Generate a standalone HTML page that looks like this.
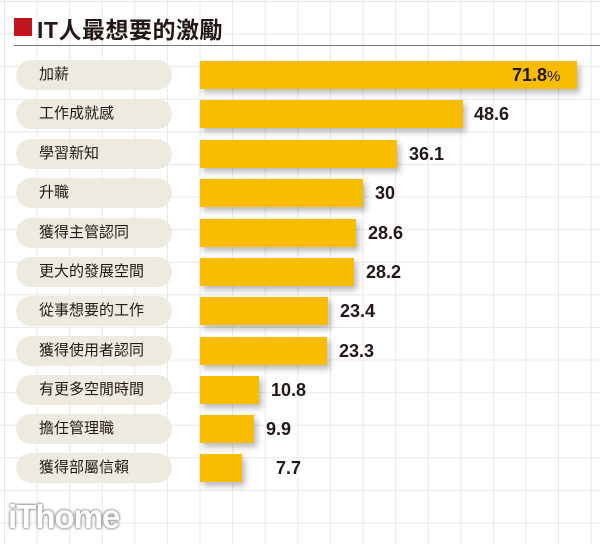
<!DOCTYPE html>
<html><head><meta charset="utf-8"><style>
body{margin:0;width:600px;height:544px;overflow:hidden;background:#fff;font-family:"Liberation Sans","Noto Sans CJK TC",sans-serif;}
#c{position:relative;width:600px;height:544px;
background-image:linear-gradient(to right,#e8e8e8 1px,transparent 1px),linear-gradient(to bottom,#e8e8e8 1px,transparent 1px);
background-size:32.6px 32.6px;background-position:4px 1px;}
.t{position:absolute;left:37px;top:11px;font-size:23px;font-weight:bold;color:#231815;letter-spacing:0.5px}
.sq{position:absolute;left:14px;top:18px;width:18px;height:18px;background:#c0161f}
.ul{position:absolute;left:14px;top:45px;width:586px;height:1px;background:#777}
.p{position:absolute;left:16px;width:156px;height:30px;border-radius:15px;background:#edebdf;font-size:15px;color:#231815;line-height:30px;box-sizing:border-box;padding-left:23px}
.b{position:absolute;left:200px;height:28px;background:#f8bd00;box-shadow:3px 4px 6px rgba(0,0,0,.28)}
.v{position:absolute;font-size:18px;font-weight:bold;color:#231815;line-height:28px}
.logo{position:absolute;left:8px;top:498px;font-size:33px;font-weight:bold;color:#fff;text-shadow:0 0 3px #888,0 0 2px #666;letter-spacing:-1px}
</style></head><body><div id="c">
<div class="sq"></div><div class="t">IT人最想要的激勵</div><div class="ul"></div>

<div class="p" style="top:60px">加薪</div><div class="b" style="top:61px;width:377px"></div>
<div class="v" style="top:61px;left:512px">71.8<span style="font-weight:normal;font-size:15px">%</span></div>

<div class="p" style="top:99px">工作成就感</div><div class="b" style="top:100px;width:263px"></div>
<div class="v" style="top:100px;left:474px">48.6</div>

<div class="p" style="top:139px">學習新知</div><div class="b" style="top:140px;width:197px"></div>
<div class="v" style="top:140px;left:409px">36.1</div>

<div class="p" style="top:178px">升職</div><div class="b" style="top:179px;width:163px"></div>
<div class="v" style="top:179px;left:375px">30</div>

<div class="p" style="top:218px">獲得主管認同</div><div class="b" style="top:219px;width:156px"></div>
<div class="v" style="top:219px;left:368px">28.6</div>

<div class="p" style="top:257px">更大的發展空間</div><div class="b" style="top:258px;width:154px"></div>
<div class="v" style="top:258px;left:366px">28.2</div>

<div class="p" style="top:296px">從事想要的工作</div><div class="b" style="top:297px;width:128px"></div>
<div class="v" style="top:297px;left:340px">23.4</div>

<div class="p" style="top:336px">獲得使用者認同</div><div class="b" style="top:337px;width:127px"></div>
<div class="v" style="top:337px;left:339px">23.3</div>

<div class="p" style="top:375px">有更多空閒時間</div><div class="b" style="top:376px;width:59px"></div>
<div class="v" style="top:376px;left:271px">10.8</div>

<div class="p" style="top:414px">擔任管理職</div><div class="b" style="top:415px;width:54px"></div>
<div class="v" style="top:415px;left:266px">9.9</div>

<div class="p" style="top:453px">獲得部屬信賴</div><div class="b" style="top:454px;width:42px"></div>
<div class="v" style="top:454px;left:276px">7.7</div>

<div class="logo">iThome</div>
</div></body></html>
